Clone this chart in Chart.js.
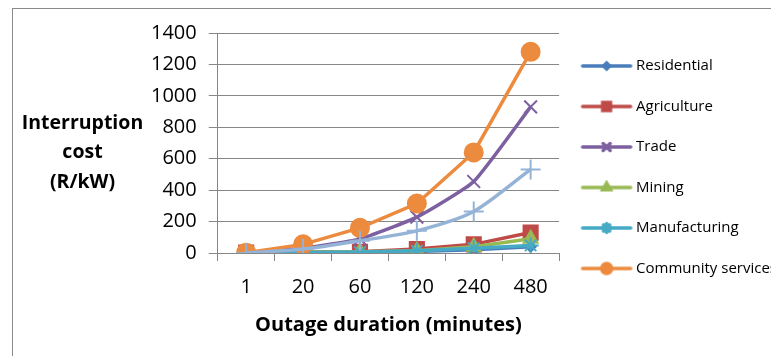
<!DOCTYPE html>
<html>
<head>
<meta charset="utf-8">
<script src="https://cdn.jsdelivr.net/npm/chart.js@4/dist/chart.umd.min.js"></script>
<style>
  html, body { margin: 0; padding: 0; background: #fff; overflow: hidden; }
  body { width: 771px; height: 356px; position: relative; }
  #frame { position: absolute; left: 12px; top: 8px; width: 820px; height: 400px;
           border: 1px solid #8a8a8a; box-sizing: border-box; }
  #wrap { position: absolute; left: 13px; top: 9px; width: 789px; height: 347px; }
</style>
</head>
<body>
<div id="frame"></div>
<div id="wrap"><canvas id="chart"></canvas></div>
<script>
// Outage durations (minutes) on the category axis
const durations = ['1', '20', '60', '120', '240', '480'];

// Interruption cost per sector, R/kW
const residential   = [1, 3, 5, 10, 20, 40];
const agriculture   = [2, 4, 8, 25, 55, 130];
const trade         = [1, 30, 90, 228, 455, 930];
const mining        = [1, 4, 8, 15, 40, 90];
const manufacturing = [1, 3, 6, 14, 30, 48];
const community     = [2, 55, 160, 315, 640, 1280];
const commercial    = [0, 25, 78, 141, 264, 532];

const yTicks = [0, 200, 400, 600, 800, 1000, 1200, 1400];

const FONT = "'Open Sans', 'Liberation Sans', sans-serif";

const seriesDefs = [
  { label: 'Residential',        data: residential,   color: '#4A7EBB', style: 'rectRot',  radius: 5,  tension: 0 },
  { label: 'Agriculture',        data: agriculture,   color: '#BE4B48', style: 'rect',     radius: 10, tension: 0 },
  { label: 'Trade',              data: trade,         color: '#7D60A0', style: 'crossRot', radius: 9,  tension: 0.15 },
  { label: 'Mining',             data: mining,        color: '#98B954', style: 'triangle', radius: 8,  tension: 0 },
  { label: 'Manufacturing',      data: manufacturing, color: '#46AAC5', style: 'star',     radius: 8,  tension: 0 },
  { label: 'Community services', data: community,     color: '#EC8A3E', style: 'circle',   radius: 9,  tension: 0 },
  { label: 'Commercial',         data: commercial,    color: '#95B3D7', style: 'cross',    radius: 10, tension: 0.25, hideInLegend: true }
];

// Legend swatch: a short line with the series marker in the middle.
// The swatch canvas is wider than the legend box so the line starts a little left of it.
const SWATCH_W = 56, SWATCH_BOX = 44;
function legendIcon(def) {
  const c = document.createElement('canvas');
  c.width = SWATCH_W; c.height = 16;
  const ctx = c.getContext('2d');
  ctx.strokeStyle = def.color;
  ctx.lineWidth = 3.5;
  ctx.lineCap = 'round';
  ctx.beginPath(); ctx.moveTo(4, 8); ctx.lineTo(52, 8); ctx.stroke();
  const r = Math.max(3, def.radius * 0.55);
  ctx.fillStyle = def.color;
  ctx.strokeStyle = def.color;
  Chart.helpers.drawPoint(ctx, {
    pointStyle: def.style, radius: r, rotation: 0, borderWidth: 1.5
  }, SWATCH_W / 2, 8);
  return c;
}

const n = seriesDefs.length;
const datasets = seriesDefs.map((d, i) => ({
  label: d.label,
  data: d.data,
  borderColor: d.color,
  backgroundColor: d.color,
  borderWidth: 3.5,
  pointStyle: d.style,
  pointRadius: d.radius,
  pointHoverRadius: d.radius,
  pointBorderWidth: 2,
  pointBackgroundColor: d.color,
  pointBorderColor: d.color,
  tension: d.tension,
  fill: false,
  order: n - i,
  hideInLegend: !!d.hideInLegend
}));

// Horizontal, three-line y-axis title left of the tick labels
const yTitlePlugin = {
  id: 'yTitle',
  afterDraw(chart) {
    const ctx = chart.ctx;
    ctx.save();
    ctx.font = 'bold 19.5px ' + FONT;
    ctx.fillStyle = '#000';
    ctx.textAlign = 'center';
    ctx.textBaseline = 'alphabetic';
    const cx = 69.5;
    ctx.fillText('Interruption', cx, 120);
    ctx.fillText('cost', cx, 149);
    ctx.fillText('(R/kW)', cx, 179);
    ctx.restore();
  }
};

const icons = seriesDefs.map(legendIcon);

new Chart(document.getElementById('chart'), {
  type: 'line',
  data: { labels: durations, datasets },
  plugins: [yTitlePlugin],
  options: {
    responsive: true,
    maintainAspectRatio: false,
    animation: false,
    layout: { padding: { left: 126, top: 24, right: 15, bottom: 15 } },
    plugins: {
      tooltip: { enabled: false },
      legend: {
        position: 'right',
        align: 'start',
        maxWidth: 300,
        labels: {
          usePointStyle: true,
          pointStyleWidth: SWATCH_BOX,
          padding: 25.5,
          color: '#000',
          font: { family: FONT, size: 15 },
          generateLabels(chart) {
            return chart.data.datasets.map((ds, i) => ({
              text: ds.label,
              pointStyle: icons[i],
              fillStyle: ds.borderColor,
              strokeStyle: ds.borderColor,
              lineWidth: 0,
              hidden: false,
              datasetIndex: i,
              fontColor: '#000'
            }));
          },
          filter(item, data) {
            return !data.datasets[item.datasetIndex].hideInLegend;
          }
        }
      }
    },
    scales: {
      x: {
        offset: true,
        grid: {
          offset: true,
          drawOnChartArea: false,
          drawTicks: true,
          tickLength: 8,
          color: '#878787'
        },
        border: { color: '#878787', width: 1 },
        ticks: { color: '#000', font: { family: FONT, size: 20 }, padding: 14, maxRotation: 0 },
        title: {
          display: true,
          text: 'Outage duration (minutes)',
          color: '#000',
          font: { family: FONT, size: 20, weight: 'bold' },
          padding: { top: 0, bottom: 4 }
        }
      },
      y: {
        min: 0,
        max: 1400,
        afterBuildTicks(axis) { axis.ticks = yTicks.map(v => ({ value: v })); },
        grid: { color: '#878787', tickLength: 9, drawTicks: true },
        border: { color: '#878787', width: 1 },
        ticks: {
          color: '#000',
          font: { family: FONT, size: 20 },
          padding: 12,
          callback: (v) => String(v)
        }
      }
    }
  }
});
</script>
</body>
</html>
